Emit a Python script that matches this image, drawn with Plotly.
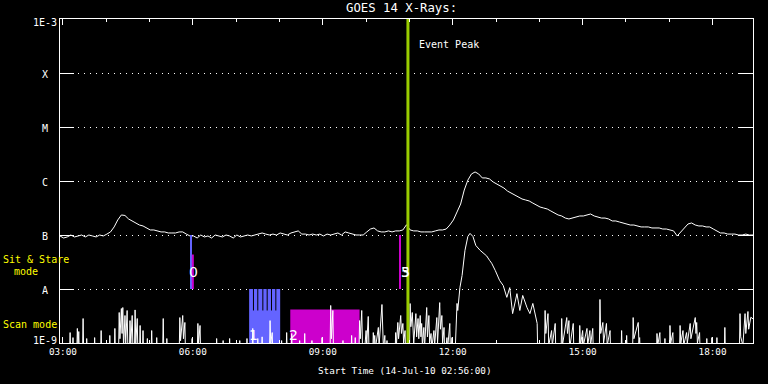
import math
import pandas as pd
import plotly.graph_objects as go

START = pd.Timestamp("2010-07-14 02:56:00")
END = pd.Timestamp("2010-07-14 18:56:00")

# ---- Long channel (1-8 A), every 5 minutes from start, units of 1e-7 W/m^2
long_step_min = 5
long_flux_e7 = [
    0.96, 0.88, 0.92, 1.0, 0.92, 0.96, 1.0, 0.92, 1.0, 0.96, 0.92, 1.0, 0.96, 1.04, 1.14,
    1.41, 1.9, 2.35, 2.3, 1.98, 1.82, 1.67, 1.53, 1.47, 1.35, 1.24, 1.24, 1.19, 1.14, 1.14,
    1.09, 1.09, 1.09, 1.14, 1.14, 1.04, 0.96, 0.96, 0.88, 1.0, 0.92, 0.96, 0.88, 1.0, 0.96,
    0.92, 1.0, 0.96, 0.88, 1.0, 0.92, 0.96, 1.0, 0.96, 1.0, 1.04, 1.09, 1.04, 1.0, 1.04,
    1.0, 1.09, 1.04, 1.0, 1.09, 1.14, 1.19, 1.04, 1.04, 1.0, 1.04, 1.0, 1.04, 0.96, 1.04,
    1.0, 1.04, 1.09, 1.0, 1.14, 1.09, 1.04, 1.0, 1.0, 1.0, 1.14, 1.29, 1.35, 1.19, 1.14,
    1.14, 1.19, 1.14, 1.19, 1.19, 1.24, 1.55, 1.24, 1.19, 1.19, 1.14, 1.14, 1.14, 1.14, 1.19,
    1.24, 1.24, 1.29, 1.53, 1.9, 2.67, 3.75, 6.8, 10.4, 13.5, 14.7, 13.5, 11.4, 11.4, 10.9,
    9.6, 8.8, 8.1, 7.4, 6.5, 6.0, 5.5, 5.06, 4.65, 4.45, 4.26, 3.9, 3.6, 3.3, 3.16,
    3.03, 2.78, 2.56, 2.35, 2.25, 2.06, 1.98, 2.06, 2.15, 2.25, 2.25, 2.35, 2.45, 2.25, 2.15,
    2.06, 2.06, 1.98, 1.82, 1.82, 1.74, 1.67, 1.6, 1.53, 1.53, 1.47, 1.41, 1.41, 1.41, 1.35,
    1.35, 1.35, 1.29, 1.29, 1.24, 1.19, 0.96, 1.14, 1.41, 1.6, 1.67, 1.53, 1.47, 1.47, 1.41,
    1.41, 1.29, 1.19, 1.09, 1.09, 1.04, 1.04, 1.04, 1.0, 1.0, 1.04, 1.0, 1.0,
]

# ---- Short channel (0.5-4 A): minutes after start, units of 1e-9 W/m^2 (0 = below scale)
short_min = [
    0, 13, 14, 15, 17, 18, 19, 23, 24, 25, 26, 27, 31, 32, 33, 36, 37, 38, 47, 48, 49,
    56, 57, 58, 68, 69, 70, 75, 76, 77,
    81, 82, 83, 85, 86, 87, 88, 90, 91, 93, 94, 96, 97, 98, 100, 101, 103, 104, 105, 107, 108,
    110, 111, 112, 114, 115, 116, 120, 121, 122, 126, 127, 128, 133, 134, 135,
    142, 143, 144, 147, 148, 149, 165, 166, 167, 170, 171, 173, 174, 182, 183, 184,
    190, 191, 192, 194, 195, 216, 217, 218, 225, 226, 227, 234, 235, 236,
    248, 249, 250, 258, 259, 260, 266, 267, 268, 273, 274, 275, 279, 280, 281,
    290, 291, 292, 294, 295, 306, 307, 308, 313, 314, 315, 320, 321, 322,
    331, 332, 333, 338, 339, 340, 348, 349, 350, 362, 363, 364, 374, 375, 376, 378, 379,
    391, 392, 393, 403, 404, 405, 408, 409, 410,
    414, 415, 416, 418, 419, 421, 424, 425, 427, 428,
    433, 434, 435, 436, 437, 441, 442, 446, 447, 448, 450, 451, 453, 454,
    464, 465, 466, 468, 469, 472, 473, 475, 476, 478, 479,
    484, 485, 486, 488, 489, 490, 493, 494, 496, 497, 499, 500, 501, 502, 504, 505,
    508, 509, 511, 512, 514, 515, 518, 519, 522, 523, 526, 527, 529, 530, 532, 533,
    536, 537, 540, 541, 543, 544,
    547, 550, 551, 554, 557, 561, 565, 568, 572, 576, 582, 587, 591, 595, 598, 603, 609,
    614, 619, 623, 627, 633, 637, 641, 647, 651, 655, 661, 662,
    671, 672, 673, 676, 677, 681, 682, 686, 687,
    694, 695, 696, 702, 703, 705, 706, 711, 712,
    719, 720, 721, 724, 725, 730, 731, 734, 735, 738, 739,
    747, 748, 749, 752, 753, 757, 758, 762, 763,
    777, 778, 779, 784, 785, 786, 793, 794, 795, 801, 802, 803, 804,
    826, 827, 828, 831, 832, 837, 838, 839, 844, 845, 846, 849, 850,
    858, 859, 860, 863, 864, 868, 869, 873, 874, 880, 881, 882, 883, 886, 887,
    895, 896, 897, 902, 903, 904, 909, 910, 911, 920, 921, 922, 935, 936, 937,
    941, 942, 943, 946, 949, 950, 953, 954, 957, 960,
]
short_flux_e9 = [
    0, 0, 1.56, 0, 0, 1.26, 0, 0, 1.86, 0.8, 1.63, 0, 0, 2.84, 0, 0, 1.21, 0, 0, 1.26, 0,
    0, 1.7, 0, 0, 1.38, 0, 0, 1.86, 0,
    0, 3.67, 1.2, 4.35, 1.5, 4.54, 0.8, 3.23, 1.0, 4.0, 0.8, 0, 2.6, 0.9, 3.23, 0.8, 0, 4.1, 1.0, 2.84, 0,
    0, 2.11, 0, 0, 1.7, 0, 0, 1.21, 0, 0, 1.7, 0, 0, 1.26, 0,
    0, 2.84, 0, 0, 1.21, 0, 0, 2.96, 1.1, 3.23, 1.2, 2.4, 0, 0, 1.21, 0,
    0, 2.3, 1.0, 2.11, 0, 0, 1.21, 0, 0, 1.11, 0, 0, 1.21, 0,
    0, 1.11, 0, 0, 1.21, 0, 0, 1.86, 0, 0, 1.21, 0, 0, 1.3, 0,
    0, 2.6, 1.0, 1.56, 0, 0, 1.11, 0, 0, 1.56, 0, 0, 1.5, 0,
    0, 1.11, 0, 0, 1.5, 0, 0, 1.11, 0, 0, 1.26, 0, 0, 4.95, 1.2, 4.0, 0,
    0, 1.11, 0, 0, 1.38, 0, 0, 1.26, 0,
    0, 2.6, 1.2, 4.0, 0.9, 0, 1.7, 1.0, 3.1, 0.8,
    0, 1.56, 1.0, 1.38, 0.8, 1.94, 0.9, 5.16, 2.6, 0.8, 1.38, 0, 1.11, 0,
    0, 1.56, 0.9, 2.4, 1.2, 3.23, 1.5, 2.3, 1.0, 1.7, 0,
    0, 5.38, 2.0, 3.67, 2.3, 1.0, 3.5, 1.3, 2.84, 1.2, 3.23, 1.3, 2.3, 0.9, 1.94, 0.8,
    4.54, 1.3, 3.23, 1.0, 1.5, 0.8, 1.7, 0.9, 2.96, 1.0, 5.6, 1.8, 3.23, 1.0, 1.94, 0,
    1.26, 0.8, 2.3, 0, 1.26, 0,
    0, 5.4, 4.0, 10.6, 17.8, 52, 94, 107, 94, 64, 52, 45, 41, 34, 30, 22, 14.4,
    11.6, 7.0, 10.6, 3.5, 8.2, 4.0, 7.6, 4.5, 3.5, 5.4, 2.3, 0,
    0, 4.0, 1.5, 3.5, 0.9, 1.7, 0.9, 2.3, 0,
    0, 2.84, 0.9, 2.96, 1.5, 2.6, 0.8, 2.3, 0,
    0, 2.11, 0.9, 1.7, 0.9, 1.86, 0.9, 1.7, 0.9, 1.86, 0,
    0, 6.4, 1.5, 2.4, 1.0, 2.3, 0.9, 1.7, 0,
    0, 1.7, 0, 0, 1.38, 0, 0, 2.96, 1.2, 2.4, 1.0, 1.26, 0,
    0, 1.5, 0.9, 1.56, 0, 0, 1.21, 0, 0, 2.11, 1.0, 1.56, 0,
    0, 2.11, 1.0, 1.7, 0.9, 1.56, 1.0, 2.3, 1.2, 2.96, 1.5, 2.4, 1.0, 1.56, 0,
    0, 1.21, 0, 0, 1.26, 0, 0, 1.26, 0, 0, 1.94, 0, 0, 1.0, 0,
    0, 3.5, 1.3, 0.9, 3.5, 1.5, 3.83, 1.8, 3.0, 2.8,
]

# ---- Flare classes (tick labels)
class_flux = [1e-3, 1e-4, 1e-5, 1e-6, 1e-7, 1e-8, 1e-9]
class_text = ["1E-3", "X", "M", "C", "B", "A", "1E-9"]

# ---- Event and observation annotations
event_peak = "2010-07-14 10:58:00"
sit_stare_blue = ["2010-07-14 05:57:30"]
sit_stare_magenta = ["2010-07-14 06:00:00", "2010-07-14 10:47:00"]
sit_stare_mag_low = [4.35e-8, 1e-7]
sit_stare_labels = ["0", "5", "3"]
sit_stare_label_times = ["2010-07-14 06:01:00", "2010-07-14 10:54:00", "2010-07-14 10:54:00"]
scan_blocks_start = ["2010-07-14 07:18:00", "2010-07-14 08:15:00"]
scan_blocks_end = ["2010-07-14 08:01:00", "2010-07-14 09:51:00"]
scan_blocks_top = [1e-8, 4.17e-9]
scan_labels = ["1", "2"]
scan_label_times = ["2010-07-14 07:24:00", "2010-07-14 08:19:00"]
scan_sub_times = ["2010-07-14 07:24:00", "2010-07-14 07:30:00", "2010-07-14 07:37:00",
                  "2010-07-14 07:43:00", "2010-07-14 07:49:00", "2010-07-14 07:55:00"]

BLUE = "#6464ff"
MAGENTA = "#cc00cc"
PEAK = "#99cc00"
YELLOW = "#ffff00"
FONT = "DejaVu Sans Mono"
FLOOR = 5e-10

long_t = [START + pd.Timedelta(minutes=i * long_step_min) for i in range(len(long_flux_e7))]
long_y = [v * 1e-7 for v in long_flux_e7]
short_t = [START + pd.Timedelta(minutes=m) for m in short_min]
short_y = [v * 1e-9 if v > 0 else FLOOR for v in short_flux_e9]

fig = go.Figure()

# scan-mode blocks
for i, (s, e, top) in enumerate(zip(scan_blocks_start, scan_blocks_end, scan_blocks_top)):
    fig.add_trace(go.Scatter(x=[s, e, e, s, s], y=[FLOOR, FLOOR, top, top, FLOOR],
                             fill="toself", fillcolor=[BLUE, MAGENTA][i],
                             mode="lines", line=dict(width=0), hoverinfo="skip"))
for t in scan_sub_times:
    fig.add_trace(go.Scatter(x=[t, t], y=[1e-8, 4.0e-9], mode="lines",
                             line=dict(color="black", width=1), hoverinfo="skip"))

fig.add_trace(go.Scatter(x=short_t, y=short_y, mode="lines",
                         line=dict(color="white", width=1), hoverinfo="skip"))
fig.add_trace(go.Scatter(x=long_t, y=long_y, mode="lines",
                         line=dict(color="white", width=1), hoverinfo="skip"))

# sit & stare markers
for t in sit_stare_blue:
    fig.add_trace(go.Scatter(x=[t, t], y=[1e-7, 1e-8], mode="lines",
                             line=dict(color=BLUE, width=2), hoverinfo="skip"))
for t, lo in zip(sit_stare_magenta, sit_stare_mag_low):
    fig.add_trace(go.Scatter(x=[t, t], y=[lo, 1e-8], mode="lines",
                             line=dict(color=MAGENTA, width=2), hoverinfo="skip"))

fig.add_trace(go.Scatter(x=[event_peak, event_peak], y=[1e-10, 1e-2], mode="lines",
                         line=dict(color=PEAK, width=3), hoverinfo="skip"))

W, H = 768, 384
L, R, T, B = 60, 15, 19, 41
pw, ph = W - L - R, H - T - B


def px(x):
    return (x - L) / pw


def py(y):
    return (H - B - y) / ph


ann = []
shifts = {"1E-3": -3.5, "1E-9": 2.5}
for v, txt in zip(class_flux, class_text):
    ann.append(dict(x=px(44.5), xref="paper", y=math.log10(v), yref="y", text=txt,
                    showarrow=False, xanchor="center", yanchor="middle",
                    yshift=shifts.get(txt, -1), font=dict(family=FONT, size=10, color="white")))

ann.append(dict(x=px(401), xref="paper", y=py(8), yref="paper", text="GOES 14 X-Rays:",
                showarrow=False, xanchor="center", yanchor="middle",
                font=dict(family=FONT, size=12.3, color="white")))
ann.append(dict(x=px(405), xref="paper", y=py(370), yref="paper",
                text="Start Time (14-Jul-10 02:56:00)", showarrow=False,
                xanchor="center", yanchor="middle", font=dict(family=FONT, size=9.3, color="white")))
ann.append(dict(x=px(417), xref="paper", y=py(44), yref="paper", text="Event Peak",
                showarrow=False, xanchor="left", yanchor="middle",
                font=dict(family=FONT, size=10, color="white")))
ann.append(dict(x=px(1), xref="paper", y=py(259), yref="paper", text="Sit & Stare",
                showarrow=False, xanchor="left", yanchor="middle",
                font=dict(family=FONT, size=10, color=YELLOW)))
ann.append(dict(x=px(12), xref="paper", y=py(271), yref="paper", text="mode",
                showarrow=False, xanchor="left", yanchor="middle",
                font=dict(family=FONT, size=10, color=YELLOW)))
ann.append(dict(x=px(1), xref="paper", y=py(324), yref="paper", text="Scan mode",
                showarrow=False, xanchor="left", yanchor="middle",
                font=dict(family=FONT, size=10, color=YELLOW)))
for t, txt in zip(sit_stare_label_times, sit_stare_labels):
    ann.append(dict(x=t, xref="x", y=py(272), yref="paper", text=txt, showarrow=False,
                    xanchor="center", yanchor="middle",
                    font=dict(family="DejaVu Sans", size=14, color="white")))
for t, txt in zip(scan_label_times, scan_labels):
    ann.append(dict(x=t, xref="x", y=py(335), yref="paper", text=txt, showarrow=False,
                    xanchor="center", yanchor="middle",
                    font=dict(family="DejaVu Sans", size=14, color="white")))

fig.update_layout(
    width=W, height=H, margin=dict(l=L, r=R, t=T, b=B),
    paper_bgcolor="black", plot_bgcolor="black", showlegend=False,
    annotations=ann,
    xaxis=dict(type="date", range=[START, END], showgrid=False, zeroline=False,
               showline=True, linecolor="white", linewidth=1, mirror="ticks",
               ticks="inside", ticklen=6, tickcolor="white", tickwidth=1,
               tick0="2010-07-14 03:00:00", dtick=3 * 3600 * 1000, tickformat="%H:%M",
               tickfont=dict(family=FONT, size=9.3, color="white"),
               minor=dict(dtick=3600 * 1000, ticks="inside", ticklen=3, tickcolor="white",
                          showgrid=False)),
    yaxis=dict(type="log", range=[-9, -3], showline=True, linecolor="white", linewidth=1,
               mirror="ticks", ticks="inside", ticklen=14, tickcolor="white",
               tickvals=class_flux, showticklabels=False,
               showgrid=True, gridcolor="white", gridwidth=1, griddash="1px,5px",
               zeroline=False),
)

fig.write_html("out.html", config={"displayModeBar": False},
               post_script="document.body.style.margin='0';document.body.style.background='black';")
